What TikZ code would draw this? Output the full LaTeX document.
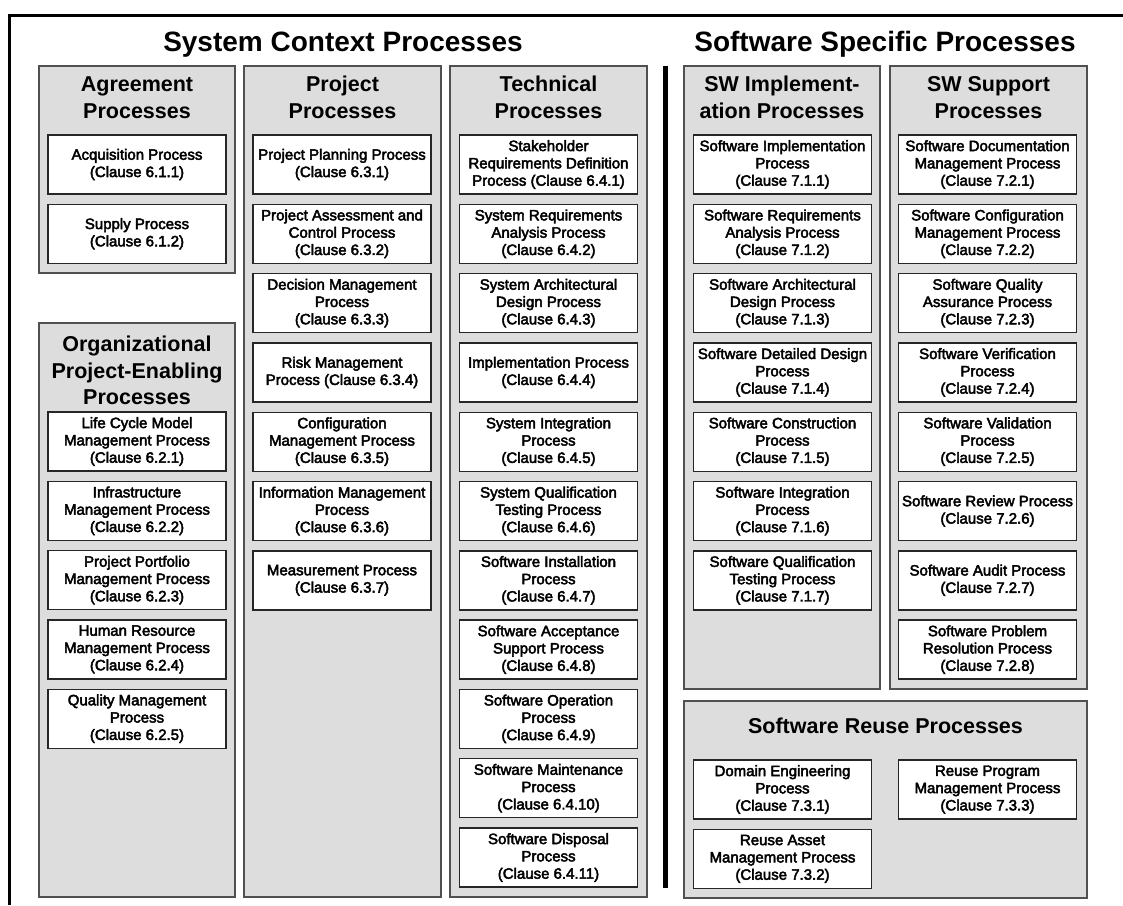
\documentclass[tikz,border=0pt]{standalone}
\usepackage{fontspec}
\setmainfont{Liberation Sans}
\newfontfamily\procfam[FakeBold=3]{Liberation Sans}
\usetikzlibrary{positioning}
\definecolor{panelfill}{RGB}{221,221,221}
\definecolor{panelline}{RGB}{80,80,80}
\newcommand\procfont{\procfam\fontsize{15}{17.3}\selectfont}
\begin{document}
\begin{tikzpicture}[x=1pt, y=-1pt, node distance=10.3pt,
        panel/.style={draw=panelline, fill=panelfill, line width=1.3pt, anchor=north west, inner sep=0pt, outer sep=0pt},
        procbox/.style={draw=black!85, fill=white, line width=1.4pt, minimum width=178pt, minimum height=59pt,
                        inner sep=1pt, outer sep=0pt, align=center, font=\procfont,
                        execute at begin node={\rule{0pt}{19pt}}},
        ptitle/.style={align=center, font=\bfseries\fontsize{21.5}{26.6}\selectfont},
        maintitle/.style={font=\bfseries\fontsize{28}{32}\selectfont}
        ]
        \useasboundingbox (0,0) rectangle (1123,905);
        % frame and divider
        \draw[line width=3pt] (1123,15) -- (9,15) -- (9,905);
        \draw[line width=5pt] (665,66) -- (665,888);

        \node[maintitle] (sysctx) at (343,44.5) {System Context Processes};
        \node[maintitle] (swspec) at (885,44.5) {Software Specific Processes};

        % panels
        \node[panel, minimum width=196pt, minimum height=207pt] (agr) at (39,66) {};
        \node[panel, minimum width=197pt, minimum height=831pt] (proj) at (244,66) {};
        \node[panel, minimum width=197pt, minimum height=831pt] (tech) at (450,66) {};
        \node[panel, minimum width=196pt, minimum height=574pt] (org) at (39,323) {};
        \node[panel, minimum width=196pt, minimum height=623pt] (impl) at (684,66) {};
        \node[panel, minimum width=197pt, minimum height=623pt] (supp) at (890,66) {};
        \node[panel, minimum width=403pt, minimum height=197pt] (reuse) at (684,701) {};

        \node[ptitle] (agrtitle) at (137,97.5) {Agreement\\Processes};
        \node[ptitle] (projtitle) at (342.5,97.5) {Project\\Processes};
        \node[ptitle] (techtitle) at (548.5,97.5) {Technical\\Processes};
        \node[ptitle] (orgtitle) at (137,370.5) {Organizational\\Project-Enabling\\Processes};
        \node[ptitle] (impltitle) at (782,97.5) {SW Implement-\\ation Processes};
        \node[ptitle] (supptitle) at (988.5,97.5) {SW Support\\Processes};
        \node[ptitle] (reusetitle) at (885.5,726) {Software Reuse Processes};

        % agreement
        \node[procbox] (acq) at (137,164.5) {Acquisition Process\\(Clause 6.1.1)};
        \node[procbox, below=of acq] (supply) {Supply Process\\(Clause 6.1.2)};

        % organizational project-enabling
        \node[procbox] (lcm) at (137,441.5) {Life Cycle Model\\Management Process\\(Clause 6.2.1)};
        \node[procbox, below=of lcm] (infra) {Infrastructure\\Management Process\\(Clause 6.2.2)};
        \node[procbox, below=of infra] (portf) {Project Portfolio\\Management Process\\(Clause 6.2.3)};
        \node[procbox, below=of portf] (hr) {Human Resource\\Management Process\\(Clause 6.2.4)};
        \node[procbox, below=of hr] (qm) {Quality Management\\Process\\(Clause 6.2.5)};

        % project
        \node[procbox] (plan) at (342,164.5) {Project Planning Process\\(Clause 6.3.1)};
        \node[procbox, below=of plan] (assess) {Project Assessment and\\Control Process\\(Clause 6.3.2)};
        \node[procbox, below=of assess] (decis) {Decision Management\\Process\\(Clause 6.3.3)};
        \node[procbox, below=of decis] (risk) {Risk Management\\Process (Clause 6.3.4)};
        \node[procbox, below=of risk] (config) {Configuration\\Management Process\\(Clause 6.3.5)};
        \node[procbox, below=of config] (info) {Information Management\\Process\\(Clause 6.3.6)};
        \node[procbox, below=of info] (meas) {Measurement Process\\(Clause 6.3.7)};

        % technical
        \node[procbox] (stake) at (548.5,164.5) {Stakeholder\\Requirements Definition\\Process (Clause 6.4.1)};
        \node[procbox, below=of stake] (sysreq) {System Requirements\\Analysis Process\\(Clause 6.4.2)};
        \node[procbox, below=of sysreq] (sysarch) {System Architectural\\Design Process\\(Clause 6.4.3)};
        \node[procbox, below=of sysarch] (implp) {Implementation Process\\(Clause 6.4.4)};
        \node[procbox, below=of implp] (sysint) {System Integration\\Process\\(Clause 6.4.5)};
        \node[procbox, below=of sysint] (sysqual) {System Qualification\\Testing Process\\(Clause 6.4.6)};
        \node[procbox, below=of sysqual] (swinst) {Software Installation\\Process\\(Clause 6.4.7)};
        \node[procbox, below=of swinst] (swacc) {Software Acceptance\\Support Process\\(Clause 6.4.8)};
        \node[procbox, below=of swacc] (swop) {Software Operation\\Process\\(Clause 6.4.9)};
        \node[procbox, below=of swop] (swmaint) {Software Maintenance\\Process\\(Clause 6.4.10)};
        \node[procbox, below=of swmaint] (swdisp) {Software Disposal\\Process\\(Clause 6.4.11)};

        % sw implementation
        \node[procbox] (swimpl) at (782.5,164.5) {Software Implementation\\Process\\(Clause 7.1.1)};
        \node[procbox, below=of swimpl] (swreq) {Software Requirements\\Analysis Process\\(Clause 7.1.2)};
        \node[procbox, below=of swreq] (swarch) {Software Architectural\\Design Process\\(Clause 7.1.3)};
        \node[procbox, below=of swarch] (swdet) {Software Detailed Design\\Process\\(Clause 7.1.4)};
        \node[procbox, below=of swdet] (swcons) {Software Construction\\Process\\(Clause 7.1.5)};
        \node[procbox, below=of swcons] (swint) {Software Integration\\Process\\(Clause 7.1.6)};
        \node[procbox, below=of swint] (swqual) {Software Qualification\\Testing Process\\(Clause 7.1.7)};

        % sw support
        \node[procbox] (swdoc) at (987.5,164.5) {Software Documentation\\Management Process\\(Clause 7.2.1)};
        \node[procbox, below=of swdoc] (swconf) {Software Configuration\\Management Process\\(Clause 7.2.2)};
        \node[procbox, below=of swconf] (swqa) {Software Quality\\Assurance Process\\(Clause 7.2.3)};
        \node[procbox, below=of swqa] (swver) {Software Verification\\Process\\(Clause 7.2.4)};
        \node[procbox, below=of swver] (swval) {Software Validation\\Process\\(Clause 7.2.5)};
        \node[procbox, below=of swval] (swrev) {Software Review Process\\(Clause 7.2.6)};
        \node[procbox, below=of swrev] (swaud) {Software Audit Process\\(Clause 7.2.7)};
        \node[procbox, below=of swaud] (swprob) {Software Problem\\Resolution Process\\(Clause 7.2.8)};

        % reuse
        \node[procbox] (domain) at (782.5,789.5) {Domain Engineering\\Process\\(Clause 7.3.1)};
        \node[procbox, below=of domain] (asset) {Reuse Asset\\Management Process\\(Clause 7.3.2)};
        \node[procbox] (program) at (987.5,789.5) {Reuse Program\\Management Process\\(Clause 7.3.3)};
      \end{tikzpicture}
\end{document}
